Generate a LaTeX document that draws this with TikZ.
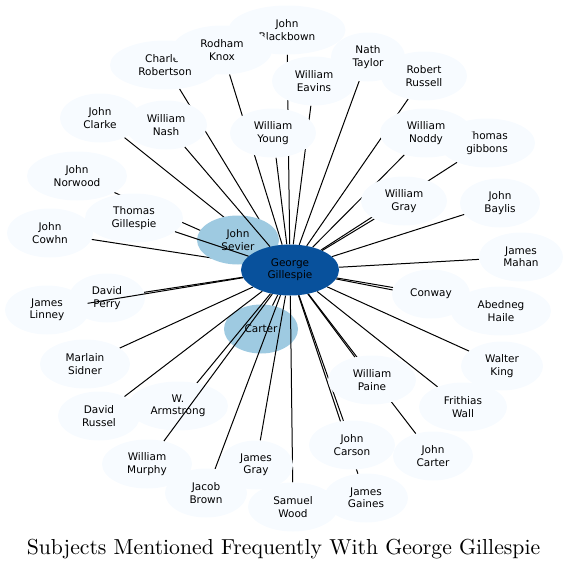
\documentclass[tikz,border=0pt]{standalone}
\usepackage{fontspec}
\newfontfamily\nodefont{DejaVu Sans}
\newfontfamily\titlefont{lmroman10-regular.otf}
\usetikzlibrary{shapes.geometric, backgrounds}
\definecolor{cdark}{HTML}{08519C}
\definecolor{clight}{HTML}{9ECAE1}
\definecolor{cpale}{HTML}{F7FBFF}
\pgfdeclarelayer{background}
\pgfdeclarelayer{edges}
\pgfdeclarelayer{front}
\pgfsetlayers{background,edges,main,front}
\tikzset{
  subj/.style={ellipse, fill=cpale, draw=none, align=center, inner sep=1pt, minimum height=49pt, minimum width=#1, font=\nodefont\fontsize{10.5}{12.3}\selectfont},
  subj/.default=84pt,
  freq/.style={subj=#1, fill=clight},
  hub/.style={subj=98pt, fill=cdark, minimum height=51pt},
  link/.style={draw=black, line width=1pt},
  title/.style={font=\titlefont\fontsize{21.7}{26}\selectfont},
}

\begin{document}
\begin{tikzpicture}[x=1pt, y=-1pt]
  \useasboundingbox (0,0) rectangle (568,570);
  % ---- subjects, top half
  \node[subj=117pt] (blackbown) at (287,30) {John\\Blackbown};
  \node[subj=110pt] (robertson) at (165,65) {Charles\\Robertson};
  \node[subj=100pt] (knox) at (222,50) {Rodham\\Knox};
  \node[subj=74pt] (taylor) at (368,57) {Nath\\Taylor};
  \node[subj=84pt] (eavins) at (314,81) {William\\Eavins};
  \node[subj=86pt] (russell) at (424,76) {Robert\\Russell};
  \node[subj=80pt] (clarke) at (100,118) {John\\Clarke};
  \node[subj=82pt] (nash) at (166,125) {William\\Nash};
  \node[subj=86pt] (young) at (273,133) {William\\Young};
  \node[subj=96pt] (gibbons) at (487,143) {Thomas\\gibbons};
  \node[subj=92pt] (noddy) at (426,133) {William\\Noddy};
  \node[subj=100pt] (norwood) at (77,176) {John\\Norwood};
  \node[subj=98pt] (tgill) at (134,218) {Thomas\\Gillespie};
  \node[subj=86pt] (cowhn) at (50,233) {John\\Cowhn};
  \node[freq=82pt] (sevier) at (238,240) {John\\Sevier};
  \node[subj=86pt] (wgray) at (404,201) {William\\Gray};
  \node[subj=80pt] (baylis) at (500,203) {John\\Baylis};
  \node[subj=84pt] (mahan) at (521,257) {James\\Mahan};
  % ---- centre and the middle band
  \node[subj=84pt] (linney) at (47,310) {James\\Linney};
  \node[subj=76pt] (perry) at (107,298) {David\\Perry};
  \node[hub] (gg) at (290,270) {George\\Gillespie};
  \node[subj=78pt] (conway) at (431,294) {Conway};
  \node[subj=100pt] (haile) at (501,311) {Abedneg\\Haile};
  \begin{pgfonlayer}{background}
    \node[freq=74pt] (carter) at (261,329) {Carter};
  \end{pgfonlayer}
  % ---- subjects, bottom half
  \node[subj=90pt] (sidner) at (85,364) {Marlain\\Sidner};
  \node[subj=82pt] (wking) at (502,366) {Walter\\King};
  \node[subj=88pt] (paine) at (372,380) {William\\Paine};
  \node[subj=88pt] (wall) at (463,407) {Frithias\\Wall};
  \node[subj=82pt] (russel) at (99,416) {David\\Russel};
  \node[subj=100pt] (armstrong) at (178,406) {W.\\Armstrong};
  \node[subj=86pt] (carson) at (352,445) {John\\Carson};
  \node[subj=80pt] (jcarter) at (433,456) {John\\Carter};
  \node[subj=90pt] (murphy) at (147,464) {William\\Murphy};
  \node[subj=74pt] (jgray) at (256,465) {James\\Gray};
  \node[subj=82pt] (brown) at (206,493) {Jacob\\Brown};
  \node[subj=90pt] (swood) at (293,507) {Samuel\\Wood};
  \node[subj=84pt] (gaines) at (366,498) {James\\Gaines};
  % ---- links to the hub
  \begin{pgfonlayer}{edges}
    \foreach \n in {blackbown,robertson,knox,taylor,eavins,russell,clarke,young,gibbons,noddy,norwood,cowhn,sevier,wgray,baylis,mahan,perry,conway,haile,carter,sidner,wking,paine,wall,russel,armstrong,carson,jcarter,jgray,brown,swood,gaines}
      \draw[link] (gg) -- (\n);
  \end{pgfonlayer}
  \begin{pgfonlayer}{front}
    \foreach \n in {nash,tgill,linney,murphy}
      \draw[link] (gg) -- (\n);
  \end{pgfonlayer}
  \node[title, anchor=base] (ttl) at (283.5,554) {Subjects Mentioned Frequently With George Gillespie};
\end{tikzpicture}
\end{document}
